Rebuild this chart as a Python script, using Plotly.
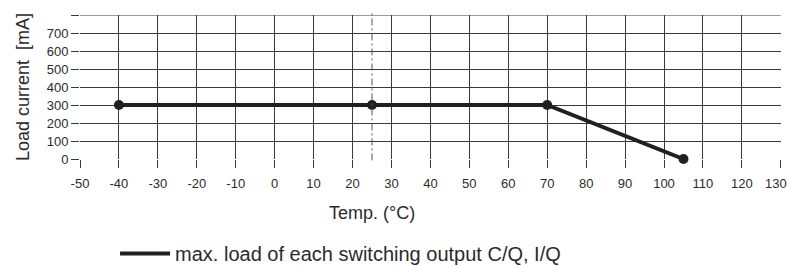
import plotly.graph_objects as go

temps = [-40, 25, 70, 105]
load_ma = [300, 300, 300, 0]
x_ticks = list(range(-50, 131, 10))
x_ticktext = [str(v) for v in x_ticks[:-1]] + [""]
x_last_label = str(x_ticks[-1])
y_ticks = list(range(0, 801, 100))
y_ticktext = [str(v) for v in range(0, 701, 100)] + [""]
legend_label = "max. load of each switching output C/Q, I/Q"

FONT = "Liberation Sans, Arial, sans-serif"
GRID = "#3a3a3a"
INK = "#231f20"
TXT = "#2b2b2b"

fig = go.Figure()
fig.add_trace(go.Scatter(
    x=temps, y=load_ma, mode="lines+markers",
    line=dict(color=INK, width=4), marker=dict(color=INK, size=10),
    showlegend=False, cliponaxis=False,
))
fig.add_trace(go.Scatter(
    x=[None], y=[None], mode="lines", name=legend_label,
    line=dict(color=INK, width=4), showlegend=True,
))

fig.add_shape(type="line", x0=25, x1=25, xref="x", y0=-0.01, y1=1.02, yref="paper",
              line=dict(color="#555555", width=1, dash="7px,3px,2px,3px"))

fig.update_xaxes(range=[-50, 130.05], tickvals=x_ticks, ticktext=x_ticktext, ticks="outside",
                 ticklen=8, tickcolor=GRID, tickwidth=1, showgrid=True, gridcolor=GRID,
                 gridwidth=1, zeroline=False, showline=False, automargin=False,
                 ticklabelstandoff=4,
                 tickfont=dict(family=FONT, size=13, color=TXT))
fig.update_yaxes(range=[0, 800], tickvals=y_ticks, ticktext=y_ticktext, ticks="outside",
                 ticklen=8, tickcolor=GRID, tickwidth=1, showgrid=True, gridcolor=GRID,
                 gridwidth=1, zeroline=False, showline=False, automargin=False,
                 tickfont=dict(family=FONT, size=13, color=TXT),
                 title=dict(text="Load current  [mA]", font=dict(family=FONT, size=18, color=TXT),
                            standoff=12))

fig.add_shape(type="line", x0=-50, x1=130, xref="x", y0=800, y1=800, yref="y",
              line=dict(color=GRID, width=1))

# last x tick label, kept inside the window edge
fig.add_annotation(text=x_last_label, xref="x", x=x_ticks[-1], xanchor="right", xshift=8,
                   yref="paper", y=0, yanchor="top", yshift=-15, showarrow=False,
                   font=dict(family=FONT, size=13, color=TXT))

fig.add_annotation(text="Temp. (°C)", xref="x", x=25, yref="paper", y=0, yanchor="middle",
                   yshift=-54, showarrow=False, font=dict(family=FONT, size=18, color=TXT))

fig.update_layout(
    width=789, height=266,
    margin=dict(l=80, r=8, t=15, b=107, autoexpand=False),
    plot_bgcolor="white", paper_bgcolor="white",
    legend=dict(orientation="h", x=0.05, xanchor="left", xref="paper",
                y=0.047, yanchor="middle", yref="container",
                font=dict(family=FONT, size=20, color=TXT), itemwidth=50,
                bgcolor="rgba(0,0,0,0)"),
)

fig.write_html("out.html", config={"displayModeBar": False},
               post_script="document.body.style.margin='0';document.body.style.overflow='hidden';")
